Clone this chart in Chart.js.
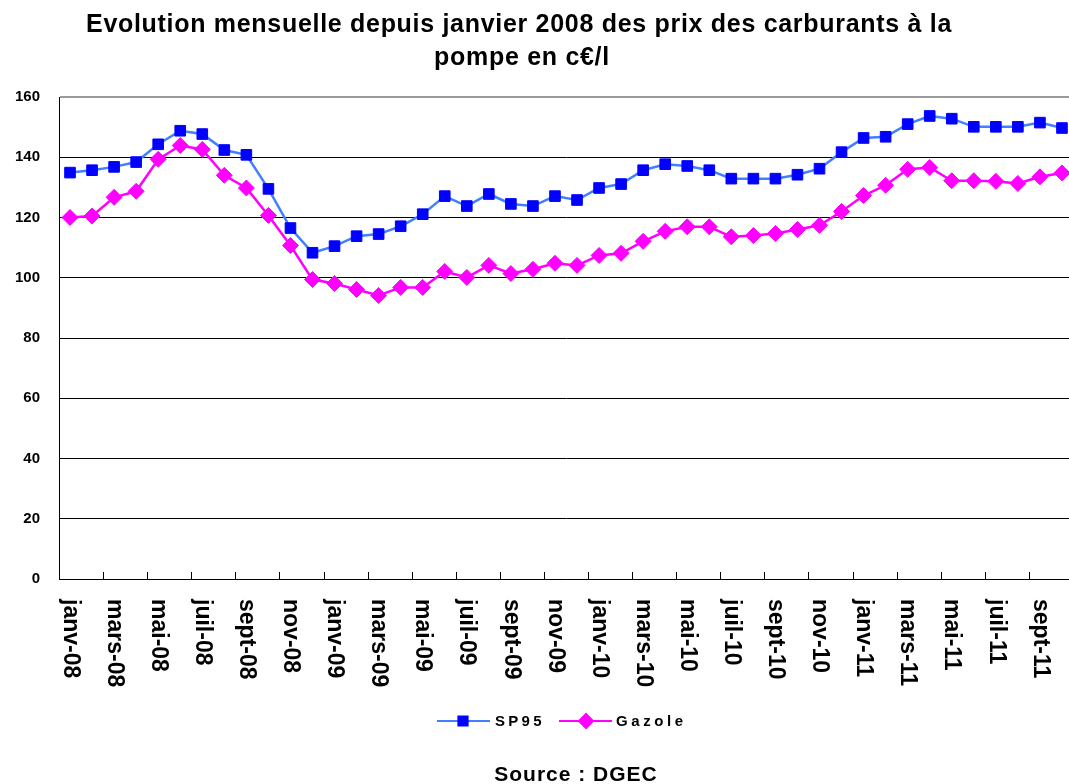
<!DOCTYPE html>
<html>
<head>
<meta charset="utf-8">
<script src="https://cdn.jsdelivr.net/npm/chart.js@4.4.0/dist/chart.umd.min.js"></script>
<style>
  html, body { margin: 0; padding: 0; background: #fff; overflow: hidden; }
  #wrap { width: 1069px; height: 784px; overflow: hidden; position: relative; }
  canvas { display: block; }
</style>
</head>
<body>
<div id="wrap"><canvas id="c" width="1082" height="784" style="width:1082px;height:784px"></canvas></div>
<script>
const months = [
  'janv-08','févr-08','mars-08','avr-08','mai-08','juin-08','juil-08','août-08','sept-08','oct-08','nov-08','déc-08',
  'janv-09','févr-09','mars-09','avr-09','mai-09','juin-09','juil-09','août-09','sept-09','oct-09','nov-09','déc-09',
  'janv-10','févr-10','mars-10','avr-10','mai-10','juin-10','juil-10','août-10','sept-10','oct-10','nov-10','déc-10',
  'janv-11','févr-11','mars-11','avr-11','mai-11','juin-11','juil-11','août-11','sept-11','oct-11'
];
const sp95 = [
  134.9,135.7,136.8,138.4,144.3,148.8,147.7,142.4,140.8,129.5,116.5,108.3,
  110.5,113.8,114.5,117.1,121.1,127.1,123.8,127.8,124.5,123.8,127.1,125.8,
  129.8,131.1,135.7,137.7,137.1,135.7,132.9,132.9,132.9,134.2,136.2,141.7,
  146.4,146.8,151.0,153.7,152.8,150.1,150.1,150.1,151.5,149.7
];
const gazole = [
  120.0,120.5,126.7,128.7,139.3,143.9,142.6,134.0,129.8,120.7,110.7,99.4,
  98.1,96.1,94.1,96.8,96.8,102.1,100.1,104.1,101.4,102.8,104.8,104.1,
  107.4,108.1,112.1,115.4,116.9,116.9,113.6,114.0,114.7,116.0,117.4,122.0,
  127.3,130.7,136.0,136.6,132.2,132.2,132.0,131.3,133.5,134.8
];
const yTicks = [0, 20, 40, 60, 80, 100, 120, 140, 160];
const titleLines = ['Evolution mensuelle depuis janvier 2008 des prix des carburants à la', 'pompe en c€/l'];
const seriesNames = ['SP95', 'Gazole'];
const sourceText = 'Source : DGEC';

const FONT = '"Liberation Sans", Arial, Helvetica, sans-serif';
const SP_LINE = '#4080ff', SP_MARK = '#0000ff';
const GA_LINE = '#ff00ff', GA_MARK = '#ff00ff';

const decor = {
  id: 'decor',
  afterDraw(chart) {
    const ctx = chart.ctx;
    const xs = chart.scales.x;
    const area = chart.chartArea;
    ctx.save();
    // x tick marks every two months (inside)
    ctx.strokeStyle = '#000';
    ctx.lineWidth = 1;
    for (let i = 2; i < months.length; i += 2) {
      const bx = Math.round((xs.getPixelForValue(i - 1) + xs.getPixelForValue(i)) / 2) + 0.5;
      ctx.beginPath();
      ctx.moveTo(bx, area.bottom);
      ctx.lineTo(bx, area.bottom - 7);
      ctx.stroke();
    }
    // rotated x labels (top to bottom)
    ctx.fillStyle = '#000';
    ctx.font = 'bold 23px ' + FONT;
    ctx.textAlign = 'left';
    ctx.textBaseline = 'middle';
    for (let i = 0; i < months.length; i += 2) {
      const x = xs.getPixelForValue(i);
      ctx.save();
      ctx.translate(x, area.bottom + 20);
      ctx.rotate(Math.PI / 2);
      ctx.fillText(months[i], 0, 0);
      ctx.restore();
    }
    // title
    ctx.textAlign = 'center';
    ctx.textBaseline = 'alphabetic';
    ctx.font = 'bold 25px ' + FONT;
    ctx.letterSpacing = '0.7px';
    ctx.fillText(titleLines[0], 519, 32);
    ctx.fillText(titleLines[1], 522, 65);
    // legend
    const ly = 721;
    ctx.lineWidth = 2;
    ctx.strokeStyle = SP_LINE;
    ctx.beginPath(); ctx.moveTo(437, ly); ctx.lineTo(490, ly); ctx.stroke();
    ctx.fillStyle = SP_MARK; ctx.strokeStyle = SP_MARK;
    Chart.helpers.drawPoint(ctx, {pointStyle: 'rect', radius: 6.5, rotation: 0, borderWidth: 1}, 463, ly);
    ctx.strokeStyle = GA_LINE;
    ctx.beginPath(); ctx.moveTo(559, ly); ctx.lineTo(612, ly); ctx.stroke();
    ctx.fillStyle = GA_MARK; ctx.strokeStyle = GA_MARK;
    Chart.helpers.drawPoint(ctx, {pointStyle: 'rectRot', radius: 7, rotation: 0, borderWidth: 1}, 586, ly);
    ctx.fillStyle = '#000';
    ctx.textAlign = 'left';
    ctx.font = 'bold 15px ' + FONT;
    ctx.letterSpacing = '3.3px';
    ctx.fillText(seriesNames[0], 495, 726);
    ctx.letterSpacing = '3.6px';
    ctx.fillText(seriesNames[1], 616, 726);
    // source
    ctx.font = 'bold 21px ' + FONT;
    ctx.letterSpacing = '1px';
    ctx.textAlign = 'center';
    ctx.fillText(sourceText, 576, 781);
    ctx.letterSpacing = '0px';
    ctx.restore();
  }
};

new Chart(document.getElementById('c'), {
  type: 'line',
  data: {
    labels: months,
    datasets: [
      {
        label: seriesNames[0], data: sp95,
        borderColor: SP_LINE, borderWidth: 2.5,
        pointStyle: 'rect', pointRadius: 7.5, pointBorderWidth: 1,
        pointBackgroundColor: SP_MARK, pointBorderColor: SP_MARK,
        tension: 0, clip: false
      },
      {
        label: seriesNames[1], data: gazole,
        borderColor: GA_LINE, borderWidth: 2.5,
        pointStyle: 'rectRot', pointRadius: 8, pointBorderWidth: 1,
        pointBackgroundColor: GA_MARK, pointBorderColor: GA_MARK,
        tension: 0, clip: false
      }
    ]
  },
  options: {
    responsive: false,
    animation: false,
    events: [],
    layout: { padding: { top: 97, left: 0, right: 3, bottom: 0 } },
    plugins: { legend: { display: false }, title: { display: false }, tooltip: { enabled: false } },
    scales: {
      x: {
        type: 'category',
        offset: true,
        grid: { display: false },
        border: { display: true, color: '#000', width: 1 },
        ticks: { display: false },
        afterFit(s) { s.height = 205; }
      },
      y: {
        min: 0, max: 160,
        afterBuildTicks(s) { s.ticks = yTicks.map(v => ({ value: v })); },
        ticks: {
          color: '#000', padding: 19,
          font: { family: FONT, size: 15, weight: 'bold' }
        },
        grid: {
          drawTicks: false,
          color: c => (c.tick && c.tick.value === 160) ? '#9a9a9a' : '#000',
          lineWidth: c => (c.tick && c.tick.value === 160) ? 2 : 1
        },
        border: { display: true, color: '#000', width: 1 },
        afterFit(s) { s.width = 59; }
      }
    }
  },
  plugins: [decor]
});
</script>
</body>
</html>
